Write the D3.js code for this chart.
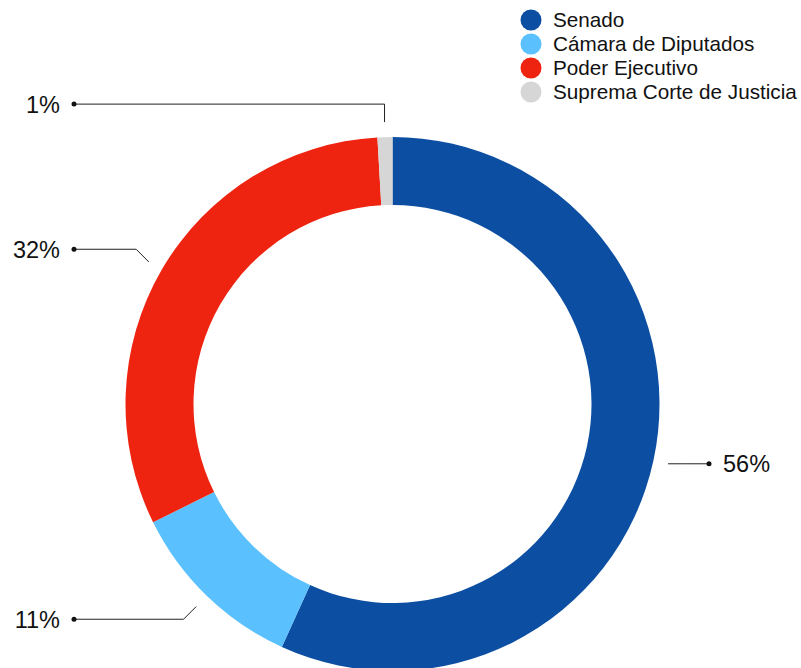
<!DOCTYPE html>
<html>
<head>
<meta charset="utf-8">
<script src="https://cdn.jsdelivr.net/npm/d3@7"></script>
<style>
  html, body { margin: 0; padding: 0; background: #fff; }
  svg { display: block; font-family: "Liberation Sans", Arial, Helvetica, sans-serif; }
</style>
</head>
<body>
<svg id="chart" width="801" height="668"></svg>
<script>
// Data
const categories = ["Senado", "Cámara de Diputados", "Poder Ejecutivo", "Suprema Corte de Justicia"];
const values = [56.8, 10.9, 31.4, 0.9];
const labels = ["56%", "11%", "32%", "1%"];
const colors = ["#0c4ea2", "#5ac1fe", "#ee2410", "#d6d6d6"];

const svg = d3.select("#chart");
const cx = 392.5, cy = 404;
const outerR = 267, innerR = 199;

const data = categories.map((c, i) => ({ name: c, value: values[i], label: labels[i], color: colors[i] }));

const pie = d3.pie().sort(null).value(d => d.value).startAngle(0).endAngle(2 * Math.PI);
const arc = d3.arc().innerRadius(innerR).outerRadius(outerR);
const arcs = pie(data);

const g = svg.append("g").attr("transform", `translate(${cx},${cy})`);

g.selectAll("path.slice")
  .data(arcs)
  .join("path")
  .attr("class", "slice")
  .attr("d", arc)
  .attr("fill", d => d.data.color);

// Connectors and labels
const startR = 282, elbowLen = 18;
const leftX = 74 - cx, rightX = 709 - cx;

arcs.forEach(a => {
  const mid = (a.startAngle + a.endAngle) / 2;
  const sx = startR * Math.sin(mid), sy = -startR * Math.cos(mid);
  // snap direction to nearest 45 degrees
  const snapped = Math.round(mid / (Math.PI / 4)) * (Math.PI / 4);
  const ex = sx + elbowLen * Math.sin(snapped);
  const ey = sy - elbowLen * Math.cos(snapped);
  const right = Math.sin(mid) > 0;
  const endX = right ? rightX : leftX;
  const pts = [[sx, sy], [ex, ey], [endX, ey]];
  g.append("path")
    .attr("d", d3.line()(pts))
    .attr("fill", "none")
    .attr("stroke", "#222")
    .attr("stroke-width", 1);
  g.append("circle")
    .attr("cx", endX).attr("cy", ey).attr("r", 2.5)
    .attr("fill", "#111");
  g.append("text")
    .attr("x", right ? endX + 14 : endX - 14)
    .attr("y", ey)
    .attr("dy", "0.36em")
    .attr("text-anchor", right ? "start" : "end")
    .attr("font-size", 23.5)
    .attr("fill", "#111")
    .text(a.data.label);
});

// Legend
const legend = svg.append("g").attr("transform", "translate(531,20)");
const rowY = d3.scalePoint().domain(categories).range([0, 72]);
const items = legend.selectAll("g.item").data(data).join("g")
  .attr("class", "item")
  .attr("transform", d => `translate(0,${rowY(d.name)})`);
items.append("circle").attr("r", 10.5).attr("fill", d => d.color);
items.append("text")
  .attr("x", 22).attr("y", 0).attr("dy", "0.36em")
  .attr("font-size", 20.7)
  .attr("fill", "#111")
  .text(d => d.name);
</script>
</body>
</html>
